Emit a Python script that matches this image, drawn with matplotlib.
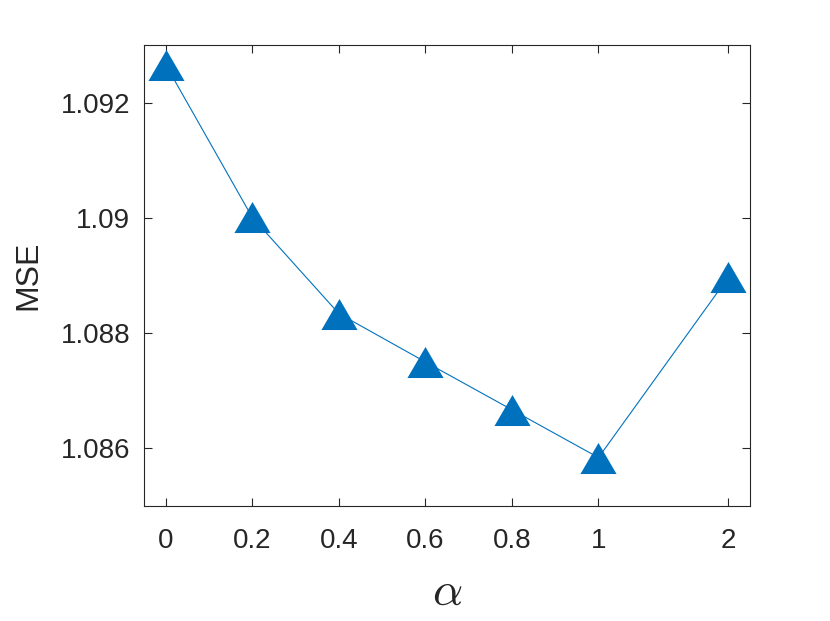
import matplotlib as mpl
mpl.use("Agg")
mpl.rcParams['font.family'] = ['Liberation Sans', 'DejaVu Sans']
mpl.rcParams['mathtext.fontset'] = 'cm'
import matplotlib.pyplot as plt

alpha_labels = ['0', '0.2', '0.4', '0.6', '0.8', '1', '2']
alpha_pos = [0, 1, 2, 3, 4, 5, 6.5]
mse = [1.09266, 1.09001, 1.08834, 1.08750, 1.08667, 1.08584, 1.08897]
y_ticks = [1.086, 1.088, 1.090, 1.092]
y_labels = ['1.086', '1.088', '1.09', '1.092']

blue = '#0072BD'
axcol = '#262626'

# MATLAB-style triangle (a bit wider than tall)
tri = [(0, 0.86), (-1, -0.86), (1, -0.86), (0, 0.86)]

fig = plt.figure(figsize=(8.3, 6.21), dpi=100)
ax = fig.add_axes([0.1735, 0.1852, 0.7301, 0.7423])

ax.plot(alpha_pos, mse, color=blue, linewidth=0.8,
        marker=tri, markersize=26, markerfacecolor=blue, markeredgecolor=blue,
        markeredgewidth=0)

ax.set_xlim(-0.25, 6.75)
ax.set_ylim(1.085, 1.093)
ax.set_xticks(alpha_pos)
ax.set_xticklabels(alpha_labels)
ax.set_yticks(y_ticks)
ax.set_yticklabels(y_labels)

ax.tick_params(direction='in', top=True, right=True, length=6, width=0.8,
               color=axcol, labelcolor=axcol, labelsize=20)
ax.tick_params(axis='x', pad=16)
ax.tick_params(axis='y', pad=10)
for s in ax.spines.values():
    s.set_color(axcol)
    s.set_linewidth(0.8)

ax.set_ylabel('MSE', fontsize=23, color=axcol, labelpad=12)
ax.set_xlabel(r'$\alpha$', fontsize=34, color=axcol, labelpad=12)

plt.savefig('out.png', dpi=100)
